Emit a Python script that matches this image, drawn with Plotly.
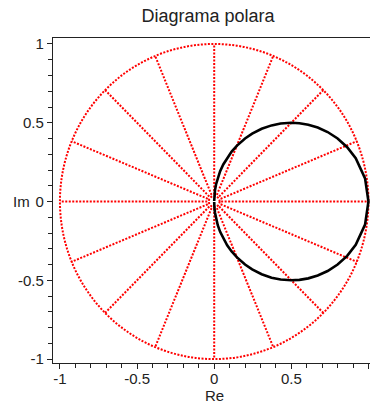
import numpy as np
import plotly.graph_objects as go

# First-order system G(s) = K / (T s + 1)
gain_K = 1.0
time_T = 1.0

# Frequencies (rad/s) at which the frequency response is sampled
freqs = [0.0, 0.15, 0.3, 0.4, 0.5, 0.6, 0.7, 0.8, 0.9, 1.0, 1.15, 1.3, 1.5,
         1.75, 2.0, 2.4, 2.8, 3.3, 4.0, 5.0, 6.5, 9.0, 14.0, 25.0, 60.0, 300.0]

# Polar grid: spoke directions (degrees) and circle radii
spoke_angles = [0, 22.5, 45, 67.5, 90, 112.5, 135, 157.5,
                180, 202.5, 225, 247.5, 270, 292.5, 315, 337.5]
grid_radii = [1.0, 0.035]
spoke_start = 0.045

tick_vals = [-1, -0.5, 0, 0.5, 1]
tick_text = ["-1", "-0.5", "0", "0.5", "1"]

# Nyquist curve over negative and positive frequencies
w = np.array(freqs)
w_full = np.concatenate([-w[::-1], w[1:]])
G = gain_K / (1j * time_T * w_full + 1)

# Spoke segments
sx, sy = [], []
for a in spoke_angles:
    t = np.deg2rad(a)
    sx += [spoke_start * np.cos(t), np.cos(t), None]
    sy += [spoke_start * np.sin(t), np.sin(t), None]

RED = "#ff0000"
DOTS = "2px,1.5px"
GRID_W = 2.0

fig = go.Figure()
fig.add_trace(go.Scatter(x=sx, y=sy, mode="lines",
                         line=dict(color=RED, width=GRID_W, dash=DOTS),
                         hoverinfo="skip", showlegend=False))
fig.add_trace(go.Scatter(x=G.real, y=G.imag, mode="lines",
                         line=dict(color="black", width=2.6),
                         cliponaxis=False, showlegend=False))

for r in grid_radii:
    fig.add_shape(type="circle", xref="x", yref="y",
                  x0=-r, x1=r, y0=-r, y1=r,
                  line=dict(color=RED, width=GRID_W, dash=DOTS), layer="below")

FONT = "Liberation Sans, Arial, sans-serif"
axis_common = dict(
    showgrid=False, zeroline=False, showline=True, linecolor="#222",
    linewidth=1.2, ticks="outside", ticklen=5, tickwidth=1.2, tickcolor="#222",
    tickvals=tick_vals, ticktext=tick_text,
    tickfont=dict(family=FONT, size=15, color="#222"),
    minor=dict(dtick=0.1, tick0=0, ticks="outside", ticklen=4,
               tickwidth=1, tickcolor="#222"),
)

fig.update_layout(
    width=370, height=403,
    margin=dict(l=53, r=0, t=38, b=40),
    paper_bgcolor="white", plot_bgcolor="white",
    title=dict(text="Diagrama polara", x=208 / 370, xref="container",
               xanchor="center", y=1 - 16 / 403, yref="container",
               yanchor="middle", font=dict(family=FONT, size=18, color="#222")),
    xaxis=dict(range=[-1.045, 1.01], mirror=True, ticklabelstandoff=-3,
               **axis_common),
    yaxis=dict(range=[-1.025, 1.038], mirror=False, **axis_common),
    annotations=[
        dict(text="Re", x=0, xref="x", y=-0.0995, yref="paper",
             showarrow=False, xanchor="center", yanchor="middle",
             font=dict(family=FONT, size=15, color="#222")),
        dict(text="Im", x=-0.098, xref="paper", y=0, yref="y",
             showarrow=False, xanchor="center", yanchor="middle",
             font=dict(family=FONT, size=15, color="#222")),
    ],
)

fig.write_html("out.html")
